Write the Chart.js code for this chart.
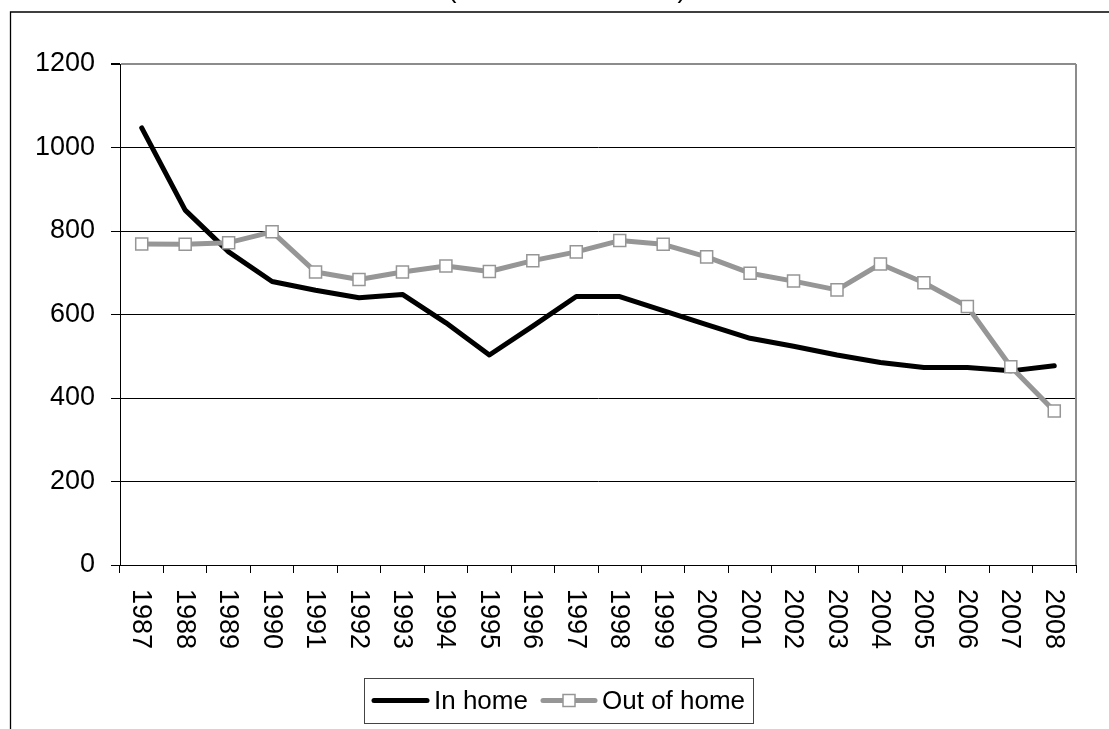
<!DOCTYPE html>
<html>
<head>
<meta charset="utf-8">
<script src="https://cdn.jsdelivr.net/npm/chart.js@4.4.1/dist/chart.umd.min.js"></script>
<style>
  html, body { margin: 0; padding: 0; background: #fff; }
  #wrap { width: 1109px; height: 729px; }
</style>
</head>
<body>
<div id="wrap"><canvas id="c" width="1109" height="729"></canvas></div>
<script>
// ---- data ----
const years = ['1987','1988','1989','1990','1991','1992','1993','1994','1995','1996','1997',
               '1998','1999','2000','2001','2002','2003','2004','2005','2006','2007','2008'];
const inHome    = [1047, 850, 750, 679, 658, 640, 648, 580, 503, 572, 643,
                    643, 609, 576, 543, 524, 503, 485, 473, 473, 465, 477];
const outOfHome = [769, 768, 772, 798, 702, 684, 702, 716, 703, 729, 750,
                   777, 768, 738, 699, 680, 659, 721, 676, 619, 475, 369];
const seriesNames = ['In home', 'Out of home'];
const yMin = 0, yMax = 1200, yStep = 200;
const titleText = ['(', ')'];

const FONT = '"Liberation Sans", Arial, sans-serif';
const FSIZE = 27;

const framePlugin = {
  id: 'frame',
  beforeDraw(chart) {
    const ctx = chart.ctx;
    ctx.save();
    ctx.fillStyle = '#fff';
    ctx.fillRect(0, 0, chart.width, chart.height);
    ctx.strokeStyle = '#000';
    ctx.lineWidth = 1.3;
    ctx.beginPath();
    ctx.moveTo(10.5, chart.height);
    ctx.lineTo(10.5, 12);
    ctx.lineTo(chart.width, 12);
    ctx.stroke();
    ctx.fillStyle = '#000';
    ctx.font = FSIZE + 'px ' + FONT;
    ctx.textAlign = 'center';
    ctx.textBaseline = 'alphabetic';
    ctx.fillText(titleText[0], 452, -3);
    ctx.fillText(titleText[1], 682, -3);
    ctx.restore();
  },
  beforeDatasetsDraw(chart) {
    const {ctx, chartArea: a} = chart;
    ctx.save();
    ctx.strokeStyle = '#8c8c8c';
    ctx.lineWidth = 2;
    ctx.beginPath();
    ctx.moveTo(a.right, a.top);
    ctx.lineTo(a.right, a.bottom);
    ctx.stroke();
    ctx.restore();
  },
  afterDraw(chart) {
    const ctx = chart.ctx;
    const xs = chart.scales.x;
    ctx.save();
    ctx.fillStyle = '#000';
    ctx.font = FSIZE + 'px ' + FONT;
    ctx.textAlign = 'left';
    ctx.textBaseline = 'middle';
    chart.data.labels.forEach((lab, i) => {
      const x = xs.getPixelForValue(i) - 1;
      ctx.save();
      ctx.translate(x, 589);
      ctx.rotate(Math.PI / 2);
      ctx.fillText(lab, 0, 0);
      ctx.restore();
    });
    // legend
    const bx = 364, by = 678, bw = 389, bh = 45;
    ctx.strokeStyle = '#444';
    ctx.lineWidth = 1;
    ctx.strokeRect(bx + 0.5, by + 0.5, bw, bh);
    const cy = by + bh / 2;
    const ds = chart.data.datasets;
    ctx.font = '26px ' + FONT;
    ctx.strokeStyle = ds[0].borderColor;
    ctx.lineWidth = ds[0].borderWidth;
    ctx.lineCap = 'round';
    ctx.beginPath(); ctx.moveTo(374, cy); ctx.lineTo(427, cy); ctx.stroke();
    ctx.fillStyle = '#000';
    ctx.textBaseline = 'middle';
    ctx.fillText(ds[0].label, 434, cy + 1);
    ctx.strokeStyle = ds[1].borderColor;
    ctx.lineWidth = ds[1].borderWidth;
    ctx.beginPath(); ctx.moveTo(543, cy); ctx.lineTo(595, cy); ctx.stroke();
    ctx.lineCap = 'butt';
    ctx.fillStyle = ds[1].pointBackgroundColor;
    ctx.strokeStyle = ds[1].pointBorderColor;
    ctx.lineWidth = ds[1].pointBorderWidth;
    ctx.fillRect(563, cy - 6, 12, 12);
    ctx.strokeRect(563, cy - 6, 12, 12);
    ctx.fillStyle = '#000';
    ctx.fillText(ds[1].label, 602, cy + 1);
    ctx.restore();
  }
};

new Chart(document.getElementById('c'), {
  type: 'line',
  data: {
    labels: years,
    datasets: [
      {
        label: seriesNames[0],
        data: inHome,
        borderColor: '#000000',
        borderWidth: 5,
        pointRadius: 0,
        tension: 0,
        order: 1,
        borderJoinStyle: 'round',
        borderCapStyle: 'round'
      },
      {
        label: seriesNames[1],
        data: outOfHome,
        borderColor: '#969696',
        borderWidth: 5,
        pointStyle: 'rect',
        pointRadius: 8.5,
        pointBackgroundColor: '#ffffff',
        pointBorderColor: '#969696',
        pointBorderWidth: 1.5,
        tension: 0,
        order: 0,
        borderJoinStyle: 'round'
      }
    ]
  },
  options: {
    responsive: false,
    animation: false,
    devicePixelRatio: 1,
    layout: { padding: { left: 0, top: 64, right: 33, bottom: 0 } },
    plugins: {
      legend: { display: false },
      tooltip: { enabled: false },
      title: { display: false }
    },
    scales: {
      x: {
        type: 'category',
        offset: true,
        grid: {
          offset: true,
          drawOnChartArea: false,
          drawTicks: true,
          tickLength: 8,
          color: '#000',
          tickColor: '#000',
          lineWidth: 1
        },
        border: { display: true, color: '#000', width: 1 },
        ticks: { display: false },
        afterFit(scale) { scale.height = 729 - 565; }
      },
      y: {
        min: yMin,
        max: yMax,
        ticks: {
          stepSize: yStep,
          color: '#000',
          font: { family: FONT, size: FSIZE },
          padding: 16,
          callback: (v) => String(v)
        },
        grid: {
          color: (c) => (c.tick && c.tick.value === yMax) ? '#8c8c8c' : '#000',
          lineWidth: (c) => (c.tick && c.tick.value === yMax) ? 2 : 1,
          tickColor: '#000',
          tickLength: 9,
          drawTicks: true
        },
        border: { display: true, color: '#000', width: 1 },
        afterFit(scale) { scale.width = 120; }
      }
    }
  },
  plugins: [framePlugin]
});
</script>
</body>
</html>
